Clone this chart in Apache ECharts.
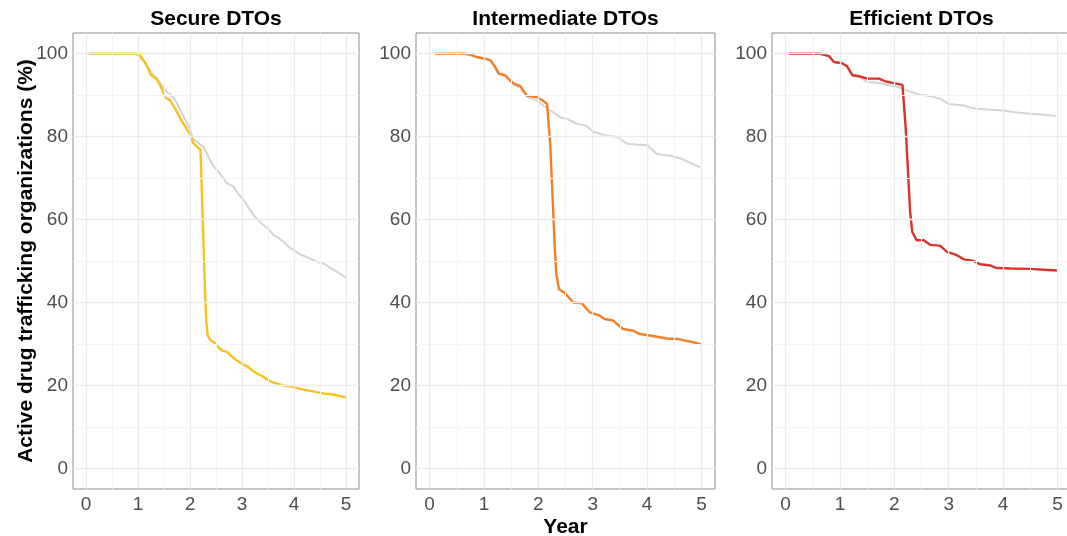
<!DOCTYPE html>
<html>
<head>
<meta charset="utf-8">
<script src="https://cdn.jsdelivr.net/npm/echarts@6.0.0/dist/echarts.min.js"></script>
<style>
  html, body { margin: 0; padding: 0; background: #fff; overflow: hidden; }
  #chart { width: 1072px; height: 536px; }
</style>
</head>
<body>
<div id="chart"></div>
<script>
// facet titles
const panelTitles = ['Secure DTOs', 'Intermediate DTOs', 'Efficient DTOs'];
const xTicks = [0, 1, 2, 3, 4, 5];
const xMinor = [0.5, 1.5, 2.5, 3.5, 4.5];
const yTicks = [0, 20, 40, 60, 80, 100];
const yMinor = [10, 30, 50, 70, 90];

// [year, % active]
const secureBaseline = [[0.05,100],[0.95,100],[1.0,99.6],[1.1,98.3],[1.17,97.2],[1.25,95.5],[1.35,94.3],[1.45,92.5],[1.55,90.8],[1.62,90.3],[1.74,88.3],[1.85,85.5],[1.94,83.4],[2.0,81.8],[2.06,79.4],[2.15,78.6],[2.26,77.5],[2.35,75.2],[2.45,72.9],[2.55,71.5],[2.65,69.8],[2.71,68.8],[2.83,68],[2.93,66.2],[3.03,64.8],[3.12,63],[3.22,61.1],[3.3,60],[3.4,58.8],[3.5,57.8],[3.6,56.3],[3.7,55.6],[3.8,54.6],[3.91,53.3],[4.0,52.6],[4.1,51.7],[4.2,51.2],[4.3,50.6],[4.42,50],[4.5,49.6],[4.6,49.2],[4.7,48.3],[4.8,47.6],[4.9,46.8],[5.0,46]];
const secureActive = [[0.05,100],[0.95,100],[1.04,99.6],[1.13,98],[1.2,96.2],[1.26,94.7],[1.36,93.9],[1.46,91.5],[1.52,89.5],[1.62,88.7],[1.74,86.2],[1.84,83.8],[1.9,82.6],[2.0,80.6],[2.06,78.5],[2.16,77.3],[2.2,76.9],[2.22,70],[2.25,58],[2.28,46],[2.31,36],[2.34,32],[2.4,30.8],[2.48,30.2],[2.56,29],[2.62,28.4],[2.72,28],[2.8,27],[2.9,26],[3.0,25.2],[3.1,24.6],[3.2,23.6],[3.3,22.8],[3.4,22.2],[3.5,21.3],[3.6,20.7],[3.7,20.3],[3.8,20],[3.9,19.8],[4.0,19.6],[4.1,19.2],[4.2,18.9],[4.35,18.6],[4.5,18.2],[4.6,18],[4.75,17.8],[4.85,17.5],[5.0,17.1]];

const interBaseline = [[0.1,100],[0.63,100],[0.87,99.2],[1.02,98.8],[1.12,98.4],[1.27,95.2],[1.39,94.6],[1.55,92.5],[1.67,91.8],[1.79,89.6],[1.98,88.7],[2.1,87.4],[2.22,86.3],[2.4,84.7],[2.53,84.3],[2.71,83.1],[2.87,82.7],[3.02,81.1],[3.15,80.6],[3.26,80.3],[3.45,79.9],[3.63,78.3],[3.8,78.1],[4.0,77.9],[4.1,76.8],[4.18,75.8],[4.3,75.6],[4.43,75.4],[4.6,74.8],[4.71,74.2],[4.85,73.3],[4.98,72.6]];
const interActive = [[0.1,100],[0.63,100],[0.75,99.8],[0.87,99.2],[1.02,98.8],[1.12,98.4],[1.2,97],[1.27,95.2],[1.39,94.8],[1.48,93.6],[1.55,92.8],[1.67,92.2],[1.73,91],[1.79,89.9],[1.98,89.5],[2.08,88.7],[2.16,87.9],[2.19,87.7],[2.22,78],[2.26,66],[2.3,54],[2.33,47],[2.38,43.2],[2.49,42.3],[2.56,41.2],[2.64,40],[2.8,39.8],[2.88,38.6],[2.95,37.6],[3.13,36.8],[3.22,36],[3.38,35.6],[3.48,34.4],[3.56,33.6],[3.74,33.2],[3.86,32.4],[4.11,31.9],[4.36,31.3],[4.57,31.2],[4.7,30.8],[4.85,30.4],[5.0,29.9]];

const efficientBaseline = [[0.06,100],[0.64,100],[0.8,99.4],[0.89,98],[1.04,97.7],[1.13,97],[1.23,94.8],[1.38,94.2],[1.5,93.2],[1.75,92.9],[1.9,92.4],[2.06,92],[2.24,91.1],[2.42,90.3],[2.6,89.9],[2.72,89.6],[2.85,89.1],[3.0,87.9],[3.28,87.5],[3.4,87],[3.53,86.7],[3.77,86.5],[4.02,86.3],[4.2,85.9],[4.51,85.5],[4.75,85.3],[4.97,85.0]];
const efficientActive = [[0.06,100],[0.64,100],[0.8,99.4],[0.89,98],[1.04,97.7],[1.13,97],[1.23,94.8],[1.38,94.5],[1.5,94],[1.72,94],[1.84,93.3],[1.99,92.9],[2.15,92.5],[2.18,92.2],[2.21,82],[2.25,72],[2.29,62],[2.33,57],[2.41,55],[2.54,55],[2.66,53.9],[2.84,53.7],[2.97,52.2],[3.15,51.4],[3.28,50.4],[3.46,50],[3.58,49.2],[3.77,48.9],[3.89,48.3],[4.14,48.2],[4.5,48.1],[4.75,47.9],[5.0,47.7]];

const baselines = [secureBaseline, interBaseline, efficientBaseline];
const actives = [secureActive, interActive, efficientActive];
const activeColors = ['#F7C21B', '#F47E26', '#D93427'];

const panels = [
  { left: 73, width: 286 },
  { left: 416, width: 299 },
  { left: 772, width: 299 }
];
const TOP = 33, BOTTOM = 47;
const tickFont = { fontFamily: 'Liberation Sans, Arial, sans-serif', fontSize: 19, color: '#4D4D4D' };
const boldFont = { fontFamily: 'Liberation Sans, Arial, sans-serif', fontSize: 21, fontWeight: 'bold', color: '#000' };

const chart = echarts.init(document.getElementById('chart'), null, { renderer: 'canvas' });

function gridLines() {
  const major = { color: '#EBEBEB', width: 1.3, type: 'solid' };
  const minor = { color: '#F4F4F4', width: 1, type: 'solid' };
  return [].concat(
    xMinor.map(v => ({ xAxis: v, lineStyle: minor })),
    yMinor.map(v => ({ yAxis: v, lineStyle: minor })),
    xTicks.map(v => ({ xAxis: v, lineStyle: major })),
    yTicks.map(v => ({ yAxis: v, lineStyle: major }))
  );
}

const grid = panels.map(p => ({
  left: p.left, width: p.width, top: TOP, bottom: BOTTOM,
  outerBoundsMode: 'none', containLabel: false,
  show: true, backgroundColor: '#fff', borderColor: '#8C8C8C', borderWidth: 1
}));

const xAxis = panels.map((p, i) => ({
  type: 'value', gridIndex: i, min: -0.25, max: 5.25,
  axisLine: { show: false },
  splitLine: { show: false },
  axisTick: { show: true, length: 4, customValues: xTicks, lineStyle: { color: '#555' } },
  axisLabel: Object.assign({ customValues: xTicks, margin: 6 }, tickFont),
  name: i === 1 ? 'Year' : '',
  nameLocation: 'middle',
  nameGap: 28,
  nameMoveOverlap: false,
  nameTextStyle: boldFont
}));

const yAxis = panels.map((p, i) => ({
  type: 'value', gridIndex: i, min: -5, max: 105,
  axisLine: { show: false },
  splitLine: { show: false },
  axisTick: { show: true, length: 4, customValues: yTicks, lineStyle: { color: '#555' } },
  axisLabel: Object.assign({ customValues: yTicks, margin: 5 }, tickFont),
  name: i === 0 ? 'Active drug trafficking organizations (%)' : '',
  nameLocation: 'middle',
  nameRotate: 90,
  nameGap: 36,
  nameMoveOverlap: false,
  nameTextStyle: boldFont
}));

const series = [];
panels.forEach((p, i) => {
  series.push({
    type: 'line', xAxisIndex: i, yAxisIndex: i, data: [], z: 1, silent: true,
    markLine: { silent: true, symbol: ['none', 'none'], label: { show: false }, animation: false, data: gridLines() }
  });
  series.push({
    type: 'line', xAxisIndex: i, yAxisIndex: i, data: baselines[i], z: 2,
    showSymbol: false, lineStyle: { color: '#D4D4D4', width: 2 }
  });
  series.push({
    type: 'line', xAxisIndex: i, yAxisIndex: i, data: actives[i], z: 3,
    showSymbol: false, lineStyle: { color: activeColors[i], width: 2.4 }
  });
});

const graphic = panels.map((p, i) => ({
  type: 'text',
  x: p.left + p.width / 2,
  y: 19,
  style: { text: panelTitles[i], align: 'center', verticalAlign: 'middle',
    font: 'bold 21px "Liberation Sans", Arial, sans-serif', fill: '#000' }
}));

chart.setOption({
  animation: false,
  backgroundColor: '#fff',
  grid: grid,
  xAxis: xAxis,
  yAxis: yAxis,
  series: series,
  graphic: graphic
});
</script>
</body>
</html>
